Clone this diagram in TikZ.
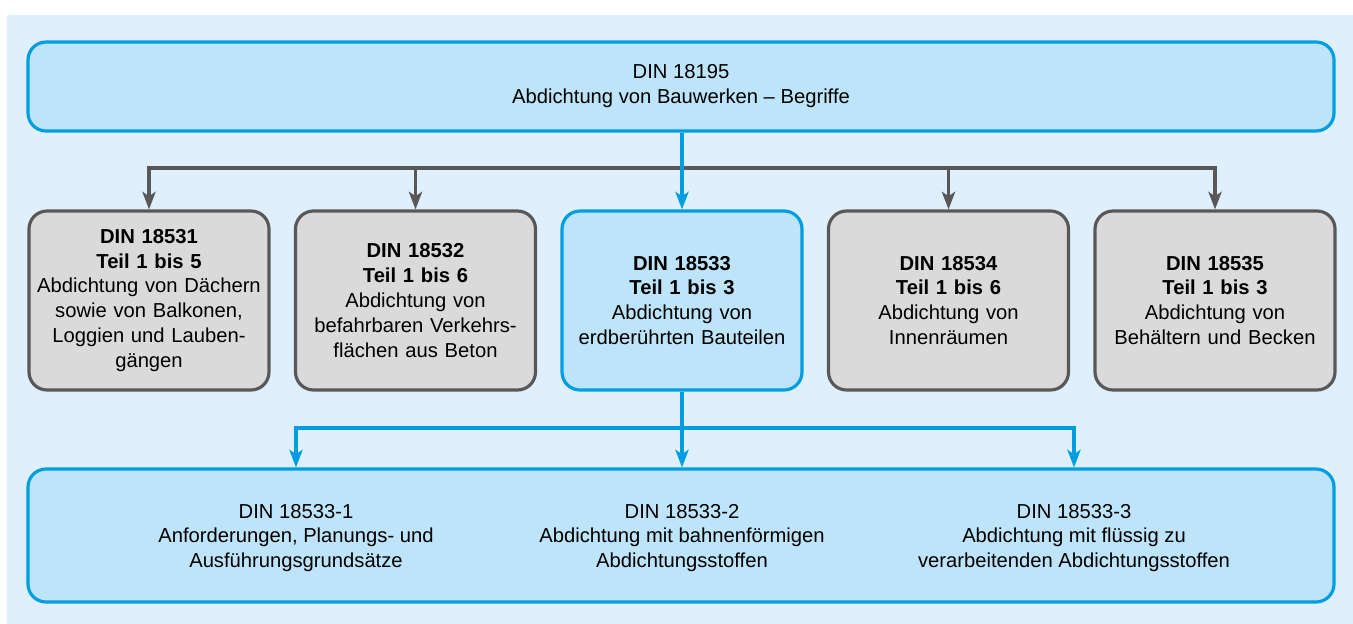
\documentclass[tikz,border=0pt]{standalone}
\usepackage{fontspec}
\setmainfont{Liberation Sans}
\usetikzlibrary{arrows.meta, positioning}
\definecolor{bgblue}{RGB}{223,240,252}
\definecolor{boxblue}{RGB}{189,228,248}
\definecolor{lineblue}{RGB}{0,158,224}
\definecolor{boxgray}{RGB}{218,218,218}
\definecolor{linegray}{RGB}{88,88,88}

\begin{document}
\begin{tikzpicture}[
  every node/.style={font=\fontsize{11.5}{14.2}\selectfont, align=center},
  normbox/.style={draw=#1, line width=1.8pt, rounded corners=0.36cm, inner sep=0.1cm},
  partbox/.style={normbox=#1, text width=4.6cm, minimum height=3.58cm},
  link/.style={draw=#1, line width=1.8pt},
  >={Stealth[length=10pt, width=7.5pt, inset=2.5pt]},
]
  \useasboundingbox (0,0) rectangle (27.06,-12.48);
  \fill[bgblue] (0.14,-0.30) rectangle (27.06,-12.48);

  \node[normbox=lineblue, fill=boxblue, minimum width=26.12cm, minimum height=1.78cm] (din18195) at (13.62,-1.73)
    {DIN 18195\\Abdichtung von Bauwerken – Begriffe};

  \node[partbox=linegray, fill=boxgray] (din18531) at (2.98,-6.01)
    {\textbf{DIN 18531}\\\textbf{Teil 1 bis 5}\\Abdichtung von Dächern\\sowie von Balkonen,\\Loggien und Lauben-\\gängen};
  \node[partbox=linegray, fill=boxgray] (din18532) at (8.31,-6.01)
    {\textbf{DIN 18532}\\\textbf{Teil 1 bis 6}\\Abdichtung von\\befahrbaren Verkehrs-\\flächen aus Beton};
  \node[partbox=lineblue, fill=boxblue] (din18533) at (13.64,-6.01)
    {\textbf{DIN 18533}\\\textbf{Teil 1 bis 3}\\Abdichtung von\\erdberührten Bauteilen};
  \node[partbox=linegray, fill=boxgray] (din18534) at (18.97,-6.01)
    {\textbf{DIN 18534}\\\textbf{Teil 1 bis 6}\\Abdichtung von\\Innenräumen};
  \node[partbox=linegray, fill=boxgray] (din18535) at (24.30,-6.01)
    {\textbf{DIN 18535}\\\textbf{Teil 1 bis 3}\\Abdichtung von\\Behältern und Becken};

  \node[normbox=lineblue, fill=boxblue, minimum width=26.12cm, minimum height=2.66cm] (din18533all) at (13.62,-10.71) {};
  \node (din18533a) at (5.92,-10.76) {DIN 18533-1\\Anforderungen, Planungs- und\\Ausführungsgrundsätze};
  \node (din18533b) at (13.64,-10.76) {DIN 18533-2\\Abdichtung mit bahnenförmigen\\Abdichtungsstoffen};
  \node (din18533c) at (21.48,-10.76) {DIN 18533-3\\Abdichtung mit flüssig zu\\verarbeitenden Abdichtungsstoffen};

  % gray bus to the other parts
  \coordinate (bus) at (0,-3.36);
  \draw[link=linegray, <->] (din18531.north) |- (bus -| din18535.north) -- (din18535.north);
  \foreach \n in {din18532, din18534}
    \draw[link=linegray, ->] (bus -| \n.north) -- (\n.north);

  % blue path through DIN 18533
  \coordinate (split) at (0,-8.56);
  \draw[link=lineblue, ->] (din18195.south -| din18533.north) -- (din18533.north);
  \draw[link=lineblue, ->] (din18533.south) -- (din18533.south |- din18533all.north);
  \draw[link=lineblue, <->] (din18533a |- din18533all.north) |- (split -| din18533c) -- (din18533c |- din18533all.north);
\end{tikzpicture}
\end{document}
